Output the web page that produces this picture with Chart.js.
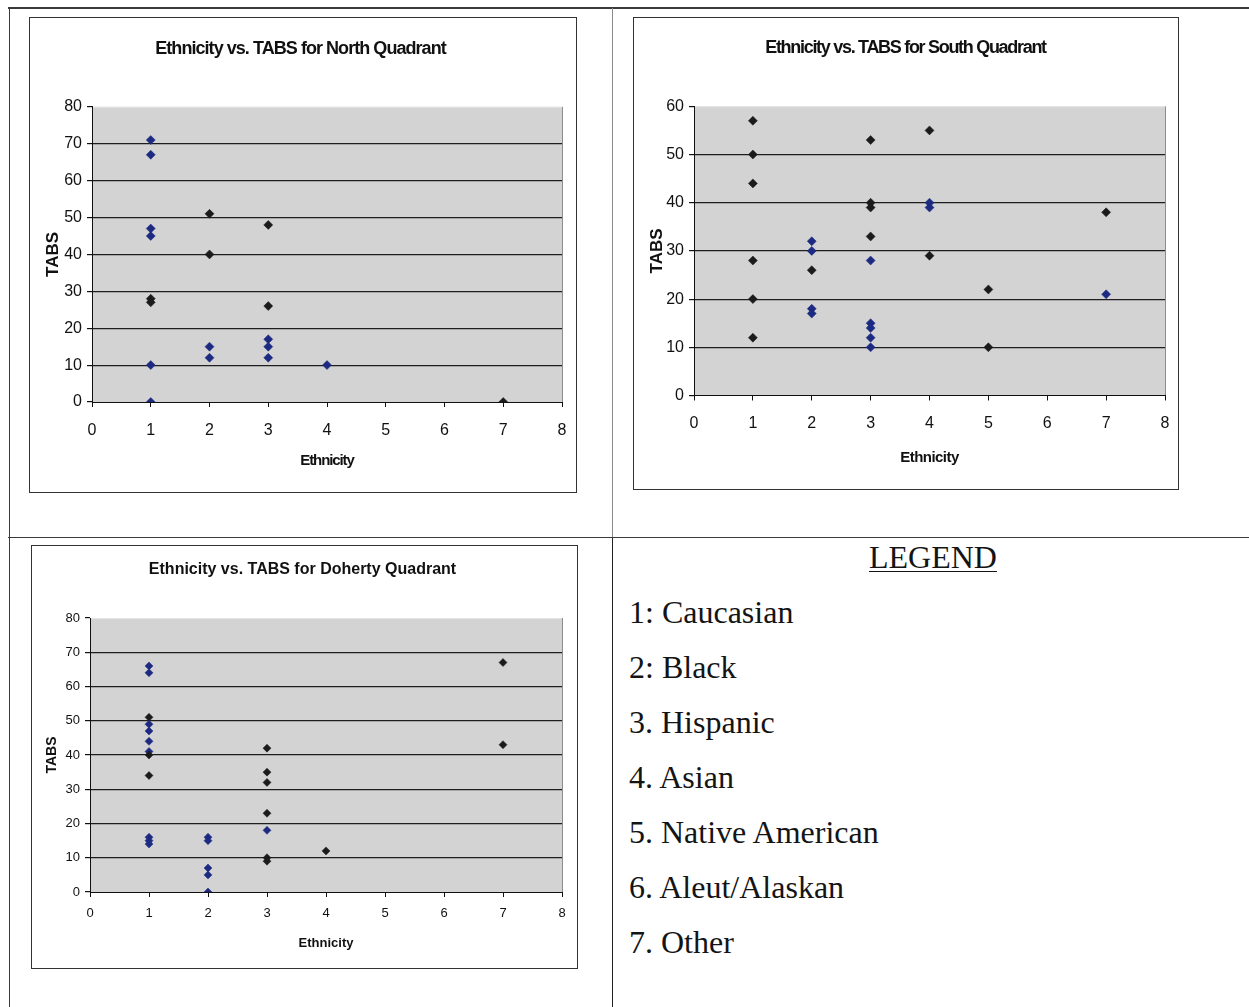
<!DOCTYPE html>
<html>
<head>
<meta charset="utf-8">
<script src="https://cdn.jsdelivr.net/npm/chart.js@4.4.1/dist/chart.umd.min.js"></script>
<style>
  html, body { margin: 0; padding: 0; background: #fff; }
  body { width: 1249px; height: 1007px; position: relative; overflow: hidden; }
  .rule { position: absolute; background: #3a3a3a; }
  .frame { position: absolute; border: 1px solid #333; background: #fff; }
  .frame canvas { display: block; }
  .legend { position: absolute; font-family: 'Liberation Serif', 'Times New Roman', serif; color: #141414; font-size: 32px; line-height: 1; white-space: nowrap; }
  .legend-head { text-decoration: underline; text-decoration-thickness: 1px; text-underline-offset: 3px; }
</style>
</head>
<body>
<!-- table rules -->
<div class="rule" style="left:8px; top:7px; width:1241px; height:2px;"></div>
<div class="rule" style="left:9px; top:8px; width:1px; height:999px;"></div>
<div class="rule" style="left:612px; top:8px; width:1px; height:530px; background:#8a8a8a;"></div>
<div class="rule" style="left:612px; top:537px; width:1px; height:470px; background:#222;"></div>
<div class="rule" style="left:8px; top:537px; width:1241px; height:1px;"></div>

<div class="frame" style="left:29px; top:17px;"><canvas id="north" width="546" height="474"></canvas></div>
<div class="frame" style="left:633px; top:17px;"><canvas id="south" width="544" height="471"></canvas></div>
<div class="frame" style="left:31px; top:545px;"><canvas id="doherty" width="545" height="422"></canvas></div>

<div id="legend"></div>

<script>
// Ethnicity codes (x) and TABS scores (y) for each quadrant
const northEthnicity = [1, 1, 1, 1, 1, 1, 1, 1, 2, 2, 2, 2, 3, 3, 3, 3, 3, 4, 7];
const northTabs      = [71, 67, 47, 45, 28, 27, 10, 0, 51, 40, 15, 12, 48, 26, 17, 15, 12, 10, 0];
const northTone      = ['n','n','n','n','k','k','n','n','k','k','n','n','k','k','n','n','n','n','k'];

const southEthnicity = [1, 1, 1, 1, 1, 1, 2, 2, 2, 2, 2, 3, 3, 3, 3, 3, 3, 3, 3, 3, 4, 4, 4, 4, 5, 5, 7, 7];
const southTabs      = [57, 50, 44, 28, 20, 12, 32, 30, 26, 18, 17, 53, 40, 39, 33, 28, 15, 14, 12, 10, 55, 40, 39, 29, 22, 10, 38, 21];
const southTone      = ['k','k','k','k','k','k','n','n','k','n','n','k','k','k','k','n','n','n','n','n','k','n','n','k','k','k','k','n'];

const dohertyEthnicity = [1, 1, 1, 1, 1, 1, 1, 1, 1, 1, 1, 1, 2, 2, 2, 2, 2, 3, 3, 3, 3, 3, 3, 3, 4, 7, 7];
const dohertyTabs      = [66, 64, 51, 49, 47, 44, 41, 40, 34, 16, 15, 14, 16, 15, 7, 5, 0, 42, 35, 32, 23, 18, 10, 9, 12, 67, 43];
const dohertyTone      = ['n','n','k','n','n','n','n','k','k','n','n','n','n','n','n','n','n','k','k','k','k','n','k','k','k','k','k'];

const northTitle = 'Ethnicity vs. TABS for North Quadrant';
const southTitle = 'Ethnicity vs. TABS for South Quadrant';
const dohertyTitle = 'Ethnicity vs. TABS for Doherty Quadrant';
const xAxisLabel = 'Ethnicity';
const yAxisLabel = 'TABS';

const legendHeading = 'LEGEND';
const legendItems = ['1: Caucasian', '2: Black', '3. Hispanic', '4. Asian', '5. Native American', '6. Aleut/Alaskan', '7. Other'];

const toneColor = { n: '#1c2a82', k: '#1b1b1b' };
const SANS = "'Liberation Sans', Arial, sans-serif";

// grey plot area with a soft right edge, as in the spreadsheet charts
const plotBackground = {
  id: 'plotBackground',
  beforeDraw(chart) {
    const { ctx, chartArea: a } = chart;
    ctx.save();
    ctx.fillStyle = '#d3d3d3';
    ctx.fillRect(a.left, a.top, a.right - a.left, a.bottom - a.top);
    ctx.strokeStyle = '#8c8c8c';
    ctx.lineWidth = 1;
    ctx.beginPath();
    ctx.moveTo(a.right + 0.5, a.top);
    ctx.lineTo(a.right + 0.5, a.bottom);
    ctx.stroke();
    ctx.strokeStyle = '#e4e4e4';
    ctx.beginPath();
    ctx.moveTo(a.left, a.top + 0.5);
    ctx.lineTo(a.right, a.top + 0.5);
    ctx.stroke();
    ctx.restore();
  }
};

// tighter letter spacing for the chart title and the x-axis title
const spacedText = {
  id: 'spacedText',
  beforeDraw(chart, args, opts) {
    const wrap = (obj, key, spacing) => {
      if (!obj || !spacing || obj['_spaced_' + key]) return;
      const orig = obj[key];
      obj[key] = function (...a) {
        const ctx = this.ctx;
        ctx.save();
        ctx.letterSpacing = spacing;
        const r = orig.apply(this, a);
        ctx.restore();
        return r;
      };
      obj['_spaced_' + key] = true;
    };
    wrap(chart.titleBlock, 'draw', opts.title);
    wrap(chart.scales.x, 'drawTitle', opts.xTitle);
  }
};

function scatterChart(id, xs, ys, tones, c) {
  const points = xs.map((x, i) => ({ x: x, y: ys[i] }));
  const colors = tones.map(t => toneColor[t]);
  const chart = new Chart(document.getElementById(id), {
    type: 'scatter',
    data: {
      datasets: [{
        data: points,
        pointStyle: 'rectRot',
        pointRadius: c.marker,
        pointHoverRadius: c.marker,
        pointBackgroundColor: colors,
        pointBorderColor: colors,
        pointBorderWidth: 0.5
      }]
    },
    options: {
      responsive: false,
      animation: false,
      events: [],
      layout: { padding: { left: c.padLeft, right: c.padRight, top: 0, bottom: 0 } },
      plugins: {
        legend: { display: false },
        tooltip: { enabled: false },
        spacedText: { title: c.titleSpacing, xTitle: c.xTitleSpacing },
        title: {
          display: true,
          text: c.title,
          color: '#111',
          font: { family: SANS, size: c.titleSize, weight: 'bold', lineHeight: 1.2 },
          padding: { top: c.titleTop, bottom: c.titleBottom }
        }
      },
      scales: {
        x: {
          type: 'linear',
          min: 0, max: 8,
          afterFit(s) {
            s.height = c.xHeight;
            // the end labels fit inside the layout padding already
            s.paddingLeft = 0;
            s.paddingRight = 0;
          },
          ticks: { stepSize: 1, color: '#111', padding: c.xTickPad, font: { family: SANS, size: c.tickSize } },
          grid: { drawOnChartArea: false, drawTicks: true, tickLength: 5, tickColor: '#111' },
          border: { display: true, color: '#111', width: 1 },
          title: {
            display: true, text: xAxisLabel, color: '#111',
            font: { family: SANS, size: c.axisSize, weight: 'bold', lineHeight: 1.2 },
            padding: { top: 0, bottom: c.xTitleBottom }
          }
        },
        y: {
          type: 'linear',
          min: 0, max: c.yMax,
          afterFit(s) { s.width = c.yWidth; },
          ticks: { stepSize: 10, color: '#111', padding: 5, font: { family: SANS, size: c.tickSize } },
          grid: {
            color: g => (g.tick && (g.tick.value === c.yMax || g.tick.value === 0)) ? 'rgba(0,0,0,0)' : '#1e1e1e',
            lineWidth: 1.2,
            drawTicks: true, tickLength: 5, tickColor: '#111'
          },
          border: { display: true, color: '#111', width: 1 },
          title: {
            display: true, text: yAxisLabel, color: '#111',
            font: { family: SANS, size: c.yAxisSize, weight: 'bold', lineHeight: 1.2 },
            padding: { top: c.yTitleTop, bottom: 0 }
          }
        }
      }
    },
    plugins: [plotBackground, spacedText]
  });
  chart.draw();
  return chart;
}

scatterChart('north', northEthnicity, northTabs, northTone, {
  title: northTitle, titleSize: 18, titleSpacing: '-0.95px', titleTop: 20.2, titleBottom: 47,
  padLeft: 9, padRight: 14, yWidth: 53, yMax: 80, xHeight: 90,
  tickSize: 16, xTickPad: 14, axisSize: 15, xTitleSpacing: '-1.1px', xTitleBottom: 22,
  yAxisSize: 17, yTitleTop: 3.8, marker: 4.5
});

scatterChart('south', southEthnicity, southTabs, southTone, {
  title: southTitle, titleSize: 18, titleSpacing: '-1.3px', titleTop: 19.2, titleBottom: 47.5,
  padLeft: 12, padRight: 13, yWidth: 48, yMax: 60, xHeight: 93.5,
  tickSize: 16, xTickPad: 13.4, axisSize: 15, xTitleSpacing: '-0.55px', xTitleBottom: 22,
  yAxisSize: 17, yTitleTop: 1.5, marker: 4.5
});

scatterChart('doherty', dohertyEthnicity, dohertyTabs, dohertyTone, {
  title: dohertyTitle, titleSize: 16, titleSpacing: '', titleTop: 14.4, titleBottom: 38.4,
  padLeft: 11, padRight: 15, yWidth: 47, yMax: 80, xHeight: 76,
  tickSize: 13, xTickPad: 9, axisSize: 13, xTitleSpacing: '', xTitleBottom: 17.2,
  yAxisSize: 14, yTitleTop: 0.6, marker: 4
});

// legend text block
const legend = document.getElementById('legend');
const head = document.createElement('div');
head.className = 'legend legend-head';
head.textContent = legendHeading;
head.style.left = '869px';
head.style.top = '541px';
legend.appendChild(head);
legendItems.forEach((label, i) => {
  const el = document.createElement('div');
  el.className = 'legend';
  el.textContent = label;
  el.style.left = '629px';
  el.style.top = (596 + i * 55) + 'px';
  legend.appendChild(el);
});
</script>
</body>
</html>
